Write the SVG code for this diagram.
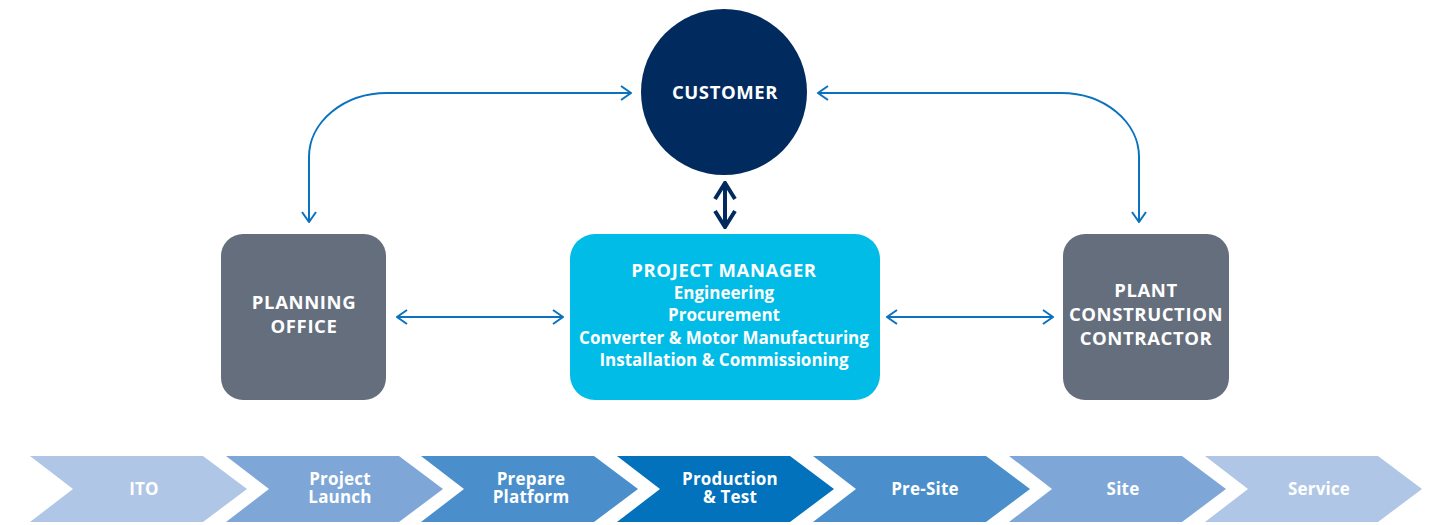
<svg xmlns="http://www.w3.org/2000/svg" width="1439" height="525" viewBox="0 0 1439 525">
<style>
text{font-family:"Open Sans","Noto Sans","Liberation Sans",sans-serif;font-weight:bold;fill:#fff;text-anchor:middle}
.big{font-size:18.5px;letter-spacing:0.6px}
.pm{font-size:17px}
.ch{font-size:17px;letter-spacing:0.2px}
.gray{fill:#656e7c}
.conn{fill:none;stroke:#0a72bf;stroke-width:2}
.dark{fill:none;stroke:#012a5e;stroke-width:4}
</style>
<defs>
<marker id="ah" viewBox="0 0 12 16" refX="11" refY="8" markerWidth="12" markerHeight="16" markerUnits="userSpaceOnUse" orient="auto-start-reverse">
<path d="M1,1 L11,8 L1,15" fill="none" stroke="#0a72bf" stroke-width="2"/>
</marker>
<marker id="ahd" viewBox="0 0 20 24" refX="18" refY="12" markerWidth="20" markerHeight="24" markerUnits="userSpaceOnUse" orient="auto-start-reverse">
<path d="M2,2 L18,12 L2,22" fill="none" stroke="#012a5e" stroke-width="4"/>
</marker>
</defs>
<g id="connectors">
<path class="conn" d="M309,222 L309,157 A78,64 0 0 1 387,93 L631,93" marker-start="url(#ah)" marker-end="url(#ah)"/>
<path class="conn" d="M1139,222 L1139,157 A78,64 0 0 0 1061,93 L818,93" marker-start="url(#ah)" marker-end="url(#ah)"/>
<path class="conn" d="M397,317 L563,317" marker-start="url(#ah)" marker-end="url(#ah)"/>
<path class="conn" d="M887,317 L1053,317" marker-start="url(#ah)" marker-end="url(#ah)"/>
<path class="dark" d="M725,183 L725,227" marker-start="url(#ahd)" marker-end="url(#ahd)"/>
</g>
<g id="customer">
<circle cx="724" cy="92" r="83" fill="#012a5e"/>
<text class="big" x="725" y="99">CUSTOMER</text>
</g>
<g id="planning-office">
<rect class="gray" x="221" y="234" width="165" height="166" rx="22"/>
<text class="big" x="304" y="309">PLANNING<tspan x="304" dy="24">OFFICE</tspan></text>
</g>
<g id="project-manager">
<rect x="570" y="234" width="310" height="166" rx="25" fill="#00bce6"/>
<text class="big" x="724" y="277">PROJECT MANAGER</text>
<text class="pm" x="724" y="299">Engineering<tspan x="724" dy="22">Procurement</tspan><tspan x="724" dy="23">Converter &amp; Motor Manufacturing</tspan><tspan x="724" dy="22">Installation &amp; Commissioning</tspan></text>
</g>
<g id="plant-construction-contractor">
<rect class="gray" x="1063" y="234" width="166" height="166" rx="22"/>
<text class="big" x="1146" y="297">PLANT<tspan x="1146" dy="24">CONSTRUCTION</tspan><tspan x="1146" dy="24">CONTRACTOR</tspan></text>
</g>
<g id="phases">
<g id="phase-ito"><polygon points="30,456 203,456 247,489 203,522 30,522 73,489" fill="#b0c6e6"/><text class="ch" x="144" y="495">ITO</text></g>
<g id="phase-launch"><polygon points="226,456 399,456 443,489 399,522 226,522 269,489" fill="#7ea7d8"/><text class="ch" x="340" y="485">Project<tspan x="340" dy="18">Launch</tspan></text></g>
<g id="phase-platform"><polygon points="421,456 594,456 638,489 594,522 421,522 464,489" fill="#4a8fcb"/><text class="ch" x="531" y="485">Prepare<tspan x="531" dy="18">Platform</tspan></text></g>
<g id="phase-production"><polygon points="617,456 790,456 834,489 790,522 617,522 660,489" fill="#0272bc"/><text class="ch" x="730" y="485">Production<tspan x="730" dy="18">&amp; Test</tspan></text></g>
<g id="phase-presite"><polygon points="813,456 986,456 1030,489 986,522 813,522 856,489" fill="#4a8fcb"/><text class="ch" x="925" y="495">Pre-Site</text></g>
<g id="phase-site"><polygon points="1009,456 1182,456 1226,489 1182,522 1009,522 1052,489" fill="#7ea7d8"/><text class="ch" x="1123" y="495">Site</text></g>
<g id="phase-service"><polygon points="1205,456 1378,456 1422,489 1378,522 1205,522 1248,489" fill="#b0c6e6"/><text class="ch" x="1319" y="495">Service</text></g>
</g>
</svg>
